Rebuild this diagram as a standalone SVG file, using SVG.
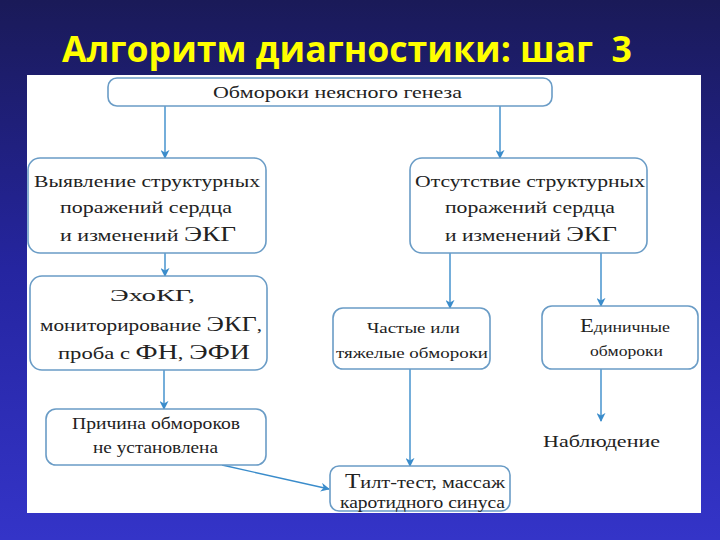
<svg xmlns="http://www.w3.org/2000/svg" width="720" height="540" viewBox="0 0 720 540">
<defs>
<linearGradient id="bg" x1="0" y1="0" x2="0" y2="1">
<stop offset="0" stop-color="#1a1a58"/>
<stop offset="0.5" stop-color="#2525a0"/>
<stop offset="1" stop-color="#3434c8"/>
</linearGradient>
<marker id="ah" viewBox="0 0 10 10" refX="9" refY="5" markerWidth="9" markerHeight="9" markerUnits="userSpaceOnUse" orient="auto">
<path d="M0,0 L10,5 L0,10 L3,5 Z" fill="#3a8ccb"/>
</marker>
</defs>
<style>
.box{fill:#ffffff;stroke:#6a9cc6;stroke-width:1.6}
.t{font-family:"Liberation Serif","DejaVu Serif",serif;fill:#222;font-size:17px}
.s{font-size:15px}
.c{stroke:#3a8ccb;stroke-width:1.4;fill:none;marker-end:url(#ah)}
.title{font-family:"Open Sans","Liberation Sans",sans-serif;font-weight:bold;fill:#ffff00;font-size:36px}
</style>
<rect width="720" height="540" fill="url(#bg)"/>
<text class="title" x="62" y="62" textLength="570" lengthAdjust="spacingAndGlyphs">Алгоритм диагностики: шаг&#160; 3</text>
<rect x="27" y="75" width="674" height="438" fill="#ffffff"/>

<g id="connectors">
<line class="c" x1="165" y1="106" x2="165" y2="158"/>
<line class="c" x1="500" y1="106" x2="500" y2="158"/>
<line class="c" x1="165" y1="253" x2="165" y2="276"/>
<line class="c" x1="450" y1="253" x2="450" y2="308"/>
<line class="c" x1="601" y1="253" x2="601" y2="306"/>
<line class="c" x1="164" y1="370" x2="164" y2="409"/>
<line class="c" x1="410" y1="369" x2="410" y2="466"/>
<line class="c" x1="601" y1="369" x2="601" y2="421"/>
<line class="c" x1="222" y1="465" x2="329" y2="489"/>
</g>

<g id="n-top">
<rect class="box" x="108" y="78" width="444" height="28" rx="9"/>
<text class="t" x="213" y="98" textLength="249" lengthAdjust="spacingAndGlyphs">Обмороки неясного генеза</text>
</g>

<g id="n-struct">
<rect class="box" x="28" y="158" width="238" height="95" rx="12"/>
<text class="t" x="34" y="187" textLength="226" lengthAdjust="spacingAndGlyphs">Выявление структурных</text>
<text class="t" x="60" y="213" textLength="172" lengthAdjust="spacingAndGlyphs">поражений сердца</text>
<text class="t" x="60" y="241" textLength="176" lengthAdjust="spacingAndGlyphs">и изменений <tspan font-size="21">ЭКГ</tspan></text>
</g>

<g id="n-nostruct">
<rect class="box" x="410" y="158" width="237" height="95" rx="12"/>
<text class="t" x="415" y="187" textLength="230" lengthAdjust="spacingAndGlyphs">Отсутствие структурных</text>
<text class="t" x="445" y="213" textLength="170" lengthAdjust="spacingAndGlyphs">поражений сердца</text>
<text class="t" x="445" y="241" textLength="172" lengthAdjust="spacingAndGlyphs">и изменений <tspan font-size="21">ЭКГ</tspan></text>
</g>

<g id="n-echo">
<rect class="box" x="30" y="276" width="237" height="94" rx="12"/>
<text class="t" x="110" y="301" font-size="20" textLength="85" lengthAdjust="spacingAndGlyphs">ЭхоКГ,</text>
<text class="t" x="40" y="331" textLength="222" lengthAdjust="spacingAndGlyphs">мониторирование <tspan font-size="21">ЭКГ</tspan>,</text>
<text class="t" x="58" y="359" textLength="192" lengthAdjust="spacingAndGlyphs">проба с <tspan font-size="21">ФН</tspan>, <tspan font-size="21">ЭФИ</tspan></text>
</g>

<g id="n-frequent">
<rect class="box" x="333" y="308" width="157" height="61" rx="10"/>
<text class="t s" x="367" y="333" textLength="93" lengthAdjust="spacingAndGlyphs">Частые или</text>
<text class="t s" x="336" y="358" textLength="152" lengthAdjust="spacingAndGlyphs">тяжелые обмороки</text>
</g>

<g id="n-single">
<rect class="box" x="542" y="306" width="156" height="63" rx="10"/>
<text class="t s" x="580" y="332" textLength="90" lengthAdjust="spacingAndGlyphs"><tspan font-size="19">Е</tspan>диничные</text>
<text class="t s" x="590" y="356" textLength="73" lengthAdjust="spacingAndGlyphs">обмороки</text>
</g>

<g id="n-cause">
<rect class="box" x="46" y="409" width="220" height="56" rx="10"/>
<text class="t" x="72" y="429" textLength="168" lengthAdjust="spacingAndGlyphs">Причина обмороков</text>
<text class="t" x="93" y="453" textLength="125" lengthAdjust="spacingAndGlyphs">не установлена</text>
</g>

<g id="n-tilt">
<rect class="box" x="330" y="466" width="180" height="45" rx="9"/>
<text class="t" x="345" y="488" textLength="160" lengthAdjust="spacingAndGlyphs"><tspan font-size="21">Т</tspan>илт-тест, массаж</text>
<text class="t" x="340" y="508" textLength="165" lengthAdjust="spacingAndGlyphs">каротидного синуса</text>
</g>

<g id="n-observe">
<text class="t" x="543" y="447" textLength="117" lengthAdjust="spacingAndGlyphs">Наблюдение</text>
</g>
</svg>
